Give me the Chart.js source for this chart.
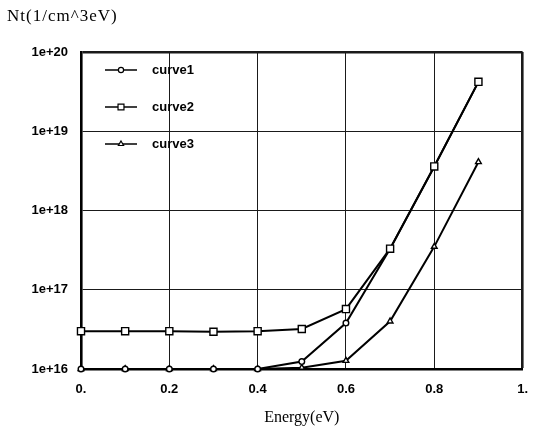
<!DOCTYPE html>
<html>
<head>
<meta charset="utf-8">
<script src="https://cdn.jsdelivr.net/npm/chart.js@4"></script>
<style>
  html, body { margin: 0; padding: 0; background: #fff; }
  canvas { display: block; }
</style>
</head>
<body>
<canvas id="c" width="541" height="446"></canvas>
<script>
// ---- data ----
const ENERGY = [0, 0.1, 0.2, 0.3, 0.4, 0.5, 0.6, 0.7, 0.8, 0.9];
const CURVE1 = [1.0e16, 1.0e16, 1.0e16, 1.0e16, 1.0e16, 1.24e16, 3.8e16, 3.3e17, 3.6e18, 4.2e19];
const CURVE2 = [3.0e16, 3.0e16, 3.0e16, 2.95e16, 3.0e16, 3.2e16, 5.7e16, 3.3e17, 3.6e18, 4.2e19];
const CURVE3 = [1.0e16, 1.0e16, 1.0e16, 1.0e16, 1.0e16, 1.04e16, 1.27e16, 4.0e16, 3.5e17, 4.1e18];
const SERIES_NAMES = ['curve1', 'curve2', 'curve3'];
const X_TICK_LABELS = ['0.', '0.2', '0.4', '0.6', '0.8', '1.'];
const Y_TICK_VALUES = [1e16, 1e17, 1e18, 1e19, 1e20];
const Y_TICK_LABELS = ['1e+16', '1e+17', '1e+18', '1e+19', '1e+20'];
const Y_LABEL = 'Nt(1/cm^3eV)';
const X_LABEL = 'Energy(eV)';

const SANS = '"Liberation Sans", Arial, Helvetica, sans-serif';
const SERIF = '"Liberation Serif", "Times New Roman", serif';

function toXY(vals) { return ENERGY.map((x, i) => ({ x: x, y: vals[i] })); }

const STYLES = [
  { pointStyle: 'circle', radius: 2.8, legendRadius: 2.6 },
  { pointStyle: 'rect', radius: 5, legendRadius: 4.2 },
  { pointStyle: 'triangle', radius: 3.3, legendRadius: 3 }
];

const datasets = [CURVE1, CURVE2, CURVE3].map((vals, i) => ({
  label: SERIES_NAMES[i],
  data: toXY(vals),
  borderColor: '#000',
  borderWidth: 2,
  backgroundColor: '#fff',
  pointBackgroundColor: '#fff',
  pointBorderColor: '#000',
  pointBorderWidth: 1.4,
  pointStyle: STYLES[i].pointStyle,
  pointRadius: STYLES[i].radius,
  tension: 0,
  clip: false,
  order: [1, 0, 2][i]
}));

const topLabelPlugin = {
  id: 'topLabel',
  afterDraw(chart) {
    const ctx = chart.ctx;
    ctx.save();
    ctx.fillStyle = '#000';
    ctx.font = '17px ' + SERIF;
    if ('letterSpacing' in ctx) ctx.letterSpacing = '1px';
    ctx.textBaseline = 'middle';
    ctx.textAlign = 'left';
    ctx.fillText(Y_LABEL, 7, 17);
    ctx.restore();
  }
};

const insideLegendPlugin = {
  id: 'insideLegend',
  afterDraw(chart) {
    const ctx = chart.ctx;
    ctx.save();
    chart.data.datasets.forEach((ds, i) => {
      const y = 70 + i * 37;
      ctx.strokeStyle = '#000';
      ctx.lineWidth = 1.5;
      ctx.beginPath();
      ctx.moveTo(105, y);
      ctx.lineTo(137, y);
      ctx.stroke();
      ctx.fillStyle = '#fff';
      ctx.lineWidth = 1.2;
      Chart.helpers.drawPoint(ctx, {
        pointStyle: STYLES[i].pointStyle,
        radius: STYLES[i].legendRadius,
        rotation: 0,
        borderWidth: 1.2
      }, 121, y);
      ctx.fillStyle = '#000';
      ctx.font = 'bold 13px ' + SANS;
      ctx.textBaseline = 'middle';
      ctx.textAlign = 'left';
      ctx.fillText(ds.label, 152, y);
    });
    ctx.restore();
  }
};

new Chart(document.getElementById('c'), {
  type: 'line',
  data: { datasets: datasets },
  options: {
    responsive: false,
    animation: false,
    devicePixelRatio: 1,
    layout: { padding: { top: 52, right: 14, left: 0, bottom: 0 } },
    plugins: {
      legend: { display: false },
      tooltip: { enabled: false },
      title: { display: false }
    },
    scales: {
      x: {
        type: 'linear',
        min: 0,
        max: 1,
        afterFit(scale) { scale.height = 77; },
        ticks: {
          stepSize: 0.2,
          autoSkip: false,
          maxRotation: 0,
          padding: 13,
          color: '#000',
          font: { family: SANS, size: 13, weight: 'bold' },
          callback: (v, i) => X_TICK_LABELS[i]
        },
        grid: {
          color: '#1a1a1a',
          drawTicks: false,
          lineWidth: (c) => (c.tick && c.index === X_TICK_LABELS.length - 1) ? 2.6 : 1
        },
        border: { color: '#000', width: 2.6 },
        title: {
          display: true,
          text: X_LABEL,
          color: '#000',
          font: { family: SERIF, size: 16 },
          padding: { top: 0, bottom: 19 }
        }
      },
      y: {
        type: 'logarithmic',
        min: 1e16,
        max: 1e20,
        afterFit(scale) { scale.width = 81; },
        afterBuildTicks(scale) {
          scale.ticks = Y_TICK_VALUES.map(v => ({ value: v, major: true }));
        },
        ticks: {
          autoSkip: false,
          padding: 13,
          color: '#000',
          font: { family: SANS, size: 13, weight: 'bold' },
          callback: (v, i) => Y_TICK_LABELS[i]
        },
        grid: {
          color: '#1a1a1a',
          drawTicks: false,
          lineWidth: (c) => (c.tick && c.tick.value === 1e20) ? 2.6 : 1
        },
        border: { color: '#000', width: 2.6 }
      }
    }
  },
  plugins: [topLabelPlugin, insideLegendPlugin]
});
</script>
</body>
</html>
